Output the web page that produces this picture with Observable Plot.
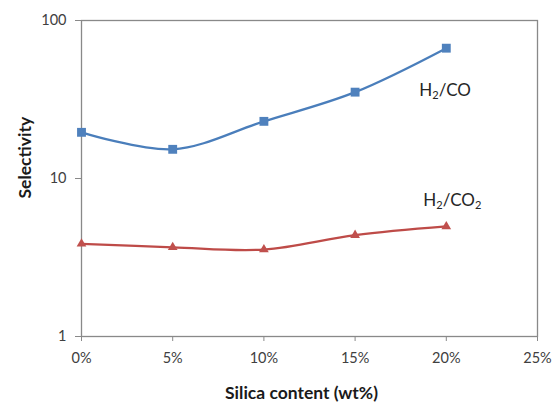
<!DOCTYPE html>
<html><head><meta charset="utf-8">
<script src="https://cdn.jsdelivr.net/npm/d3@7"></script>
<script src="https://cdn.jsdelivr.net/npm/@observablehq/plot@0.6"></script>
<style>body{margin:0;background:#fff}</style>
</head><body><div id="chart"></div>
<script>
const silica = [0, 5, 10, 15, 20];
const h2co = [19.6, 15.3, 23.0, 35.2, 66.8];
const h2co2 = [3.86, 3.67, 3.55, 4.38, 4.97];
const xTicks = [0, 5, 10, 15, 20, 25];
const yTicks = [1, 10, 100];
const seriesNames = ["H2/CO", "H2/CO2"];
const xTitle = "Silica content (wt%)";
const yTitle = "Selectivity";

const rowsCO = silica.map((x, i) => ({x, y: h2co[i]}));
const rowsCO2 = silica.map((x, i) => ({x, y: h2co2[i]}));

const blue = "#4A7EBB", red = "#BE4B48", gray = "#898989", txt = "#404040";

const chart = Plot.plot({
  width: 555, height: 407,
  marginLeft: 81, marginRight: 18, marginTop: 20, marginBottom: 71,
  style: {fontFamily: "Lato", fontSize: "14px", background: "white", color: txt},
  x: {domain: [0, 25]},
  y: {type: "log", domain: [1, 100]},
  marks: [
    Plot.frame({stroke: gray, strokeWidth: 1.3}),
    Plot.axisX({ticks: xTicks, tickFormat: d => d + "%", tickSize: 5, tickPadding: 11, stroke: gray, fill: txt, label: null, fontSize: 14.5}),
    Plot.axisY({ticks: yTicks, tickFormat: d => String(d), tickSize: 6, tickPadding: 9, stroke: gray, fill: txt, label: null, fontSize: 14.5}),
    Plot.line(rowsCO, {x: "x", y: "y", curve: "catmull-rom", stroke: blue, strokeWidth: 2.25}),
    Plot.line(rowsCO2, {x: "x", y: "y", curve: "catmull-rom", stroke: red, strokeWidth: 2.25}),
    Plot.dot(rowsCO, {x: "x", y: "y", symbol: "square", r: 5, fill: "#4F81BD", stroke: "none"}),
    Plot.dot(rowsCO2, {x: "x", y: "y", symbol: "triangle", r: 3.6, fill: "#C0504D", stroke: "none"}),
    Plot.text([rowsCO[rowsCO.length - 1]], {x: "x", y: "y", text: () => seriesNames[0], textAnchor: "start", dx: -27, dy: 42, fontSize: 17, fill: "#262626", className: "slabel"}),
    Plot.text([rowsCO2[rowsCO2.length - 1]], {x: "x", y: "y", text: () => seriesNames[1], textAnchor: "start", dx: -23, dy: -26, fontSize: 17, fill: "#262626", className: "slabel"}),
    Plot.text([yTitle], {frameAnchor: "left", dx: -56, dy: 20, rotate: -90, fontWeight: "bold", fontSize: 17.5, fill: "#1a1a1a"}),
    Plot.text([xTitle], {frameAnchor: "bottom", dx: -8, dy: 62, fontWeight: "bold", fontSize: 17.5, fill: "#1a1a1a"})
  ]
});
document.getElementById("chart").appendChild(chart);

// subscripts for chemical formulas
chart.querySelectorAll("g.slabel text").forEach(t => {
  const s = t.textContent;
  const parts = s.split(/(\d)/).filter(p => p !== "");
  t.textContent = "";
  let sub = false;
  parts.forEach(p => {
    const ts = document.createElementNS("http://www.w3.org/2000/svg", "tspan");
    ts.textContent = p;
    if (/\d/.test(p)) {
      ts.setAttribute("font-size", "0.65em");
      ts.setAttribute("dy", "0.3em");
      sub = true;
    } else if (sub) {
      ts.setAttribute("dy", "-0.195em");
      sub = false;
    }
    t.appendChild(ts);
  });
});
</script>
</body></html>
